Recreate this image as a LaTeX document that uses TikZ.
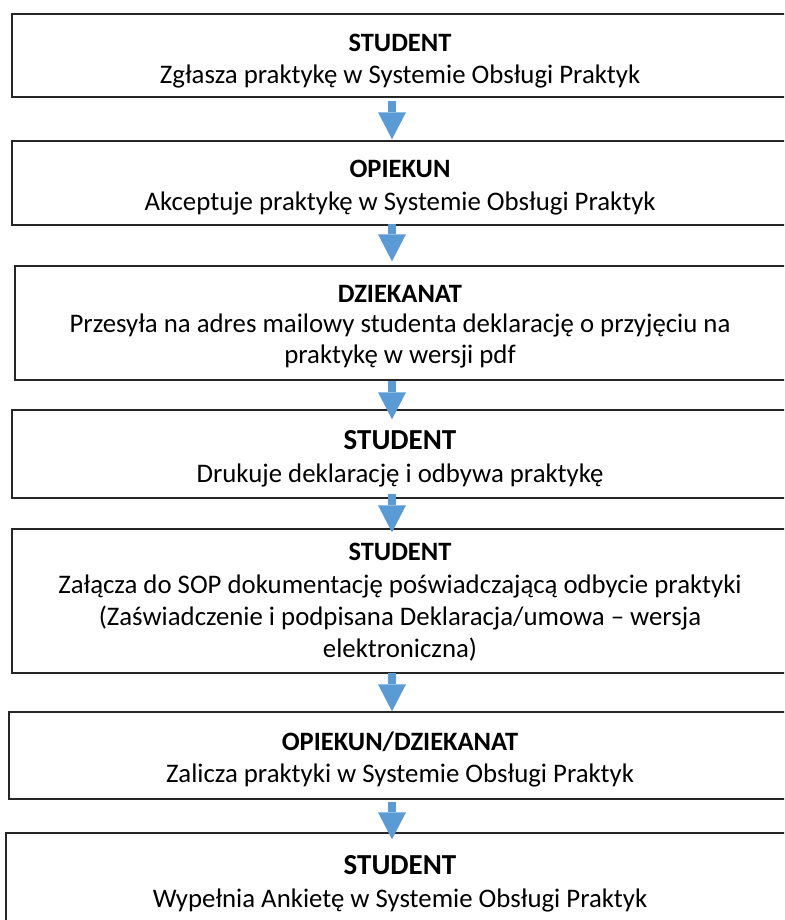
\documentclass[tikz,border=0pt]{standalone}
\usepackage{fontspec}
\setmainfont{Carlito}
\usetikzlibrary{arrows.meta}
\definecolor{arrblue}{HTML}{5B9BD5}
\begin{document}
\begin{tikzpicture}[x=1pt,y=-1pt,
  box/.style={draw=black!85, line width=1.4pt, rectangle, inner sep=0pt},
  ttl/.style={font=\fontsize{26.5}{30}\selectfont\bfseries, anchor=center, text height=17pt, text depth=0pt, inner sep=0pt},
  bigttl/.style={font=\fontsize{29}{33}\selectfont\bfseries, anchor=center, text height=18.6pt, text depth=0pt, inner sep=0pt},
  body/.style={font=\fontsize{26.8}{31}\selectfont, anchor=center, text height=17.3pt, text depth=5.6pt, inner sep=0pt},
  arr/.style={draw=arrblue, line width=8pt, -{Triangle[length=27pt,width=28pt,line width=0pt]}, fill=arrblue}
]
\useasboundingbox (0,0) rectangle (784,920);
\clip (0,0) rectangle (784,920);
\fill[white] (0,0) rectangle (784,920);
\coordinate (ax) at (392,0);

% boxes
\node[box, minimum width=776pt, minimum height=83pt] (b1) at (400,55.5) {};
\node[box, minimum width=776pt, minimum height=84pt] (b2) at (400,183) {};
\node[box, minimum width=771pt, minimum height=114pt] (b3) at (400.5,323) {};
\node[box, minimum width=776pt, minimum height=88pt] (b4) at (400,454) {};
\node[box, minimum width=776pt, minimum height=144pt] (b5) at (400,601) {};
\node[box, minimum width=782pt, minimum height=87pt] (b6) at (400,755.5) {};
\node[box, minimum width=788pt, minimum height=107pt] (b7) at (400,886.5) {};

% texts
\node[ttl] (t1a) at (400,43) {STUDENT};
\node[body] (t1b) at (400,78) {Zgłasza praktykę w Systemie Obsługi Praktyk};

\node[ttl] (t2a) at (400,169) {OPIEKUN};
\node[body] (t2b) at (400,205) {Akceptuje praktykę w Systemie Obsługi Praktyk};

\node[ttl] (t3a) at (400,294) {DZIEKANAT};
\node[body] (t3b) at (400,327) {Przesyła na adres mailowy studenta deklarację o przyjęciu na};
\node[body] (t3c) at (400,358) {praktykę w wersji pdf};

\node[bigttl] (t4a) at (400,440) {STUDENT};
\node[body] (t4b) at (400,477) {Drukuje deklarację i odbywa praktykę};

\node[ttl] (t5a) at (400,552) {STUDENT};
\node[body] (t5b) at (400,588) {Załącza do SOP dokumentację poświadczającą odbycie praktyki};
\node[body] (t5c) at (400,620) {(Zaświadczenie i podpisana Deklaracja/umowa – wersja};
\node[body] (t5d) at (400,652) {elektroniczna)};

\node[ttl] (t6a) at (400,742) {OPIEKUN/DZIEKANAT};
\node[body] (t6b) at (400,777) {Zalicza praktyki w Systemie Obsługi Praktyk};

\node[bigttl] (t7a) at (400,865) {STUDENT};
\node[body] (t7b) at (400,902) {Wypełnia Ankietę w Systemie Obsługi Praktyk};

% arrows
\draw[arr] ([yshift=-3pt]b1.south -| ax) -- ([yshift=1pt]b2.north -| ax);
\draw[arr] ([yshift=2pt]b2.south -| ax) -- ([yshift=4pt]b3.north -| ax);
\draw[arr] (b3.south -| ax) -- ([yshift=-10pt]b4.north -| ax);
\draw[arr] ([yshift=5pt]b4.south -| ax) -- ([yshift=-4pt]b5.north -| ax);
\draw[arr] ([yshift=1pt]b5.south -| ax) -- (b6.north -| ax);
\draw[arr] ([yshift=-2pt]b6.south -| ax) -- ([yshift=-7pt]b7.north -| ax);
\end{tikzpicture}
\end{document}
